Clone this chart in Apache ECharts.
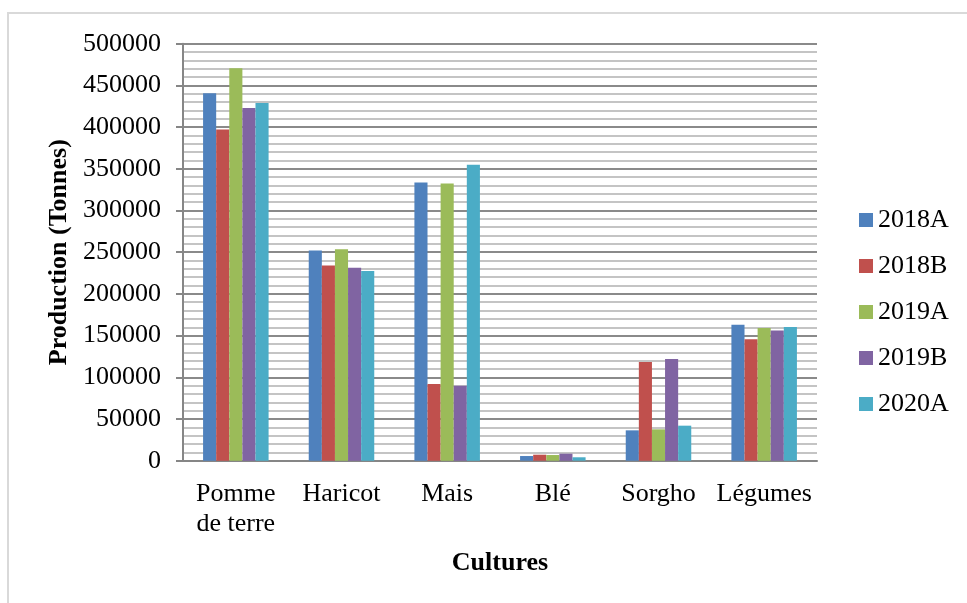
<!DOCTYPE html>
<html>
<head>
<meta charset="utf-8">
<script src="https://cdn.jsdelivr.net/npm/echarts@6/dist/echarts.min.js"></script>
<style>
  html, body { margin: 0; padding: 0; background: #fff; }
  #chart { width: 967px; height: 603px; }
</style>
</head>
<body>
<div id="chart"></div>
<script>
// Crop production by season, in tonnes
const cultures = ['Pomme de terre', 'Haricot', 'Mais', 'Blé', 'Sorgho', 'Légumes'];
const saisons = ['2018A', '2018B', '2019A', '2019B', '2020A'];

const prod2018A = [440500, 252000, 333500, 5600, 36400, 163000];
const prod2018B = [397000, 234000, 92000, 7200, 118300, 145500];
const prod2019A = [470500, 253500, 332500, 6800, 37600, 159000];
const prod2019B = [423000, 231500, 90000, 8400, 121900, 156000];
const prod2020A = [429000, 227500, 355000, 4100, 42000, 160300];

const yTicks = { min: 0, max: 500000, interval: 50000 };

const seriesValues = [prod2018A, prod2018B, prod2019A, prod2019B, prod2020A];
const colors = ['#4F81BD', '#C0504D', '#9BBB59', '#8064A2', '#4BACC6'];

const serif = '"Liberation Serif", "Times New Roman", serif';

// Wrap long category names after their first word
function wrapLabel(v) {
  if (v.length <= 10) return v;
  const i = v.indexOf(' ');
  return i > 0 ? v.slice(0, i) + '\n' + v.slice(i + 1) : v;
}

const chart = echarts.init(document.getElementById('chart'), null, { renderer: 'canvas' });

chart.setOption({
  animation: false,
  backgroundColor: '#ffffff',
  textStyle: { fontFamily: serif, color: '#000' },
  graphic: [{
    type: 'rect',
    shape: { x: 8, y: 13, width: 1000, height: 620 },
    style: { fill: 'none', stroke: '#d9d9d9', lineWidth: 2 },
    silent: true,
    z: -1
  }],
  grid: { left: 183, right: 150, top: 43.7, bottom: 142.3, containLabel: false },
  legend: {
    orient: 'vertical',
    left: 859,
    top: 207,
    padding: 0,
    itemWidth: 14,
    itemHeight: 14,
    itemGap: 20,
    icon: 'rect',
    textStyle: { fontFamily: serif, fontSize: 26, lineHeight: 26, color: '#000' },
    data: saisons
  },
  xAxis: {
    type: 'category',
    data: cultures,
    name: 'Cultures',
    nameLocation: 'middle',
    nameGap: 90,
    nameTextStyle: { fontFamily: serif, fontSize: 26, fontWeight: 'bold', color: '#000' },
    axisLine: { show: true, lineStyle: { color: '#868686', width: 2 } },
    axisTick: { show: false },
    axisLabel: {
      fontFamily: serif, fontSize: 26, lineHeight: 30, color: '#000',
      margin: 18, interval: 0, align: 'center',
      formatter: wrapLabel
    },
    splitLine: { show: false }
  },
  yAxis: {
    type: 'value',
    min: yTicks.min,
    max: yTicks.max,
    interval: yTicks.interval,
    name: 'Production (Tonnes)',
    nameLocation: 'middle',
    nameGap: 104,
    nameRotate: 90,
    nameTextStyle: { fontFamily: serif, fontSize: 26, fontWeight: 'bold', color: '#000' },
    axisLine: { show: true, lineStyle: { color: '#868686', width: 2 } },
    axisTick: { show: true, length: 7, lineStyle: { color: '#868686', width: 2 } },
    axisLabel: { fontFamily: serif, fontSize: 26, color: '#000', margin: 22, formatter: v => String(v) },
    splitLine: { show: true, lineStyle: { color: '#8a8a8a', width: 2 } },
    minorTick: { show: false, splitNumber: 5 },
    minorSplitLine: { show: true, lineStyle: { color: '#c4c4c4', width: 2 } }
  },
  series: saisons.map((s, i) => ({
    name: s,
    type: 'bar',
    data: seriesValues[i],
    barGap: '0%',
    barCategoryGap: '38%',
    itemStyle: { color: colors[i] }
  }))
});
</script>
</body>
</html>
